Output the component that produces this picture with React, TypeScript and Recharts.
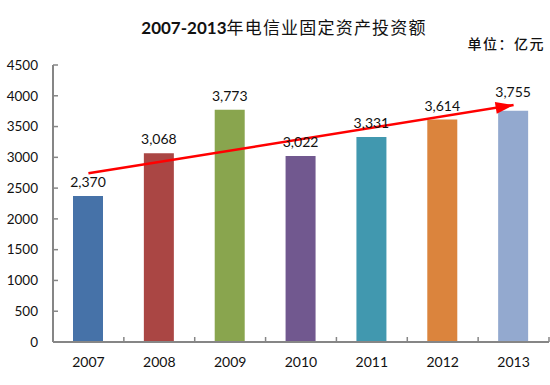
import React from "react";
import { Bar, Cell, ComposedChart, LabelList, Line, XAxis, YAxis } from "recharts";

// values
const years = ["2007", "2008", "2009", "2010", "2011", "2012", "2013"];
const investment = [2370, 3068, 3773, 3022, 3331, 3614, 3755];
const barColors = ["#4672A8", "#AA4644", "#89A54E", "#71588F", "#4198AF", "#DB843D", "#93A9CF"];
// red trend arrow: start value at 2007, tip value at 2013
const trendLine = [2740, null, null, null, null, null, 3850];
const yTicks = [0, 500, 1000, 1500, 2000, 2500, 3000, 3500, 4000, 4500];

const data = years.map((year, i) => ({
  year,
  value: investment[i],
  trend: trendLine[i],
}));

const FONT = "Lato, 'Noto Sans CJK SC', sans-serif";
const AXIS = "#868686";

function YearTick(props: any) {
  const { x, y, payload, width, visibleTicksCount } = props;
  const band = width && visibleTicksCount ? width / visibleTicksCount : 70.9;
  const axisY = y - 15;
  const bx = x + band / 2;
  return (
    <g>
      <line x1={bx} x2={bx} y1={axisY} y2={axisY - 5} stroke={AXIS} strokeWidth={1.5} />
      <text x={x} y={y + 10} textAnchor="middle" fontSize={14} fill="#111" fontFamily={FONT}>
        {payload.value}
      </text>
    </g>
  );
}

// value label above each bar; the last one sits a little higher to clear the arrow
function ValueLabel(props: any) {
  const { x, y, width, value, index } = props;
  const lift = index === years.length - 1 ? 14 : 9;
  return (
    <text
      x={x + width / 2}
      y={y - lift}
      textAnchor="middle"
      fontSize={14}
      fill="#111"
      fontFamily={FONT}
    >
      {Number(value).toLocaleString("en-US")}
    </text>
  );
}

function ArrowHead(props: any) {
  const { cx, cy, index, points } = props;
  if (index !== years.length - 1 || cx == null) return <g key={index} />;
  let angle = -0.16;
  if (points && points[0] && points[0].x != null) {
    angle = Math.atan2(cy - points[0].y, cx - points[0].x);
  }
  const len = 18;
  const half = 6;
  const bx = cx - len * Math.cos(angle);
  const by = cy - len * Math.sin(angle);
  const px = -Math.sin(angle) * half;
  const py = Math.cos(angle) * half;
  return (
    <polygon
      key={index}
      points={`${cx},${cy} ${bx + px},${by + py} ${bx - px},${by - py}`}
      fill="#FF0000"
    />
  );
}

export default function App() {
  return (
    <div style={{ position: "absolute", left: 0, top: 0, width: 550, height: 385, background: "#fff" }}>
      <svg width={550} height={60} style={{ position: "absolute", left: 0, top: 0 }}>
        <text x={284} y={34} textAnchor="middle" fill="#111">
          <tspan fontFamily={FONT} fontWeight="bold" fontSize={17}>2007-2013</tspan>
          <tspan fontFamily="'Noto Sans CJK SC', sans-serif" fontSize={17} letterSpacing={1.2}>年电信业固定资产投资额</tspan>
        </text>
        <text
          x={545}
          y={49}
          textAnchor="end"
          fontFamily="'Noto Sans CJK SC', sans-serif"
          fontSize={14}
          fontWeight={500}
          letterSpacing={1.5}
          fill="#111"
        >
          单位：亿元
        </text>
      </svg>
      <div style={{ position: "absolute", left: 0, top: 0 }}>
        <ComposedChart
          width={550}
          height={385}
          data={data}
          margin={{ top: 65, right: 1, left: 0, bottom: 0 }}
        >
          <XAxis
            dataKey="year"
            height={43}
            axisLine={{ stroke: AXIS, strokeWidth: 2 }}
            tickLine={false}
            tickSize={0}
            tickMargin={15}
            tick={<YearTick />}
            interval={0}
          />
          <YAxis
            width={53}
            domain={[0, 4500]}
            ticks={yTicks}
            interval={0}
            axisLine={{ stroke: AXIS, strokeWidth: 2 }}
            tickLine={{ stroke: AXIS, strokeWidth: 1.5 }}
            tickSize={-5}
            tickMargin={20}
            tick={{ fontSize: 13.5, fill: "#111", fontFamily: FONT }}
          />
          <Bar dataKey="value" barSize={30} isAnimationActive={false}>
            {data.map((d, i) => (
              <Cell key={d.year} fill={barColors[i]} />
            ))}
            <LabelList dataKey="value" content={<ValueLabel />} />
          </Bar>
          <Line
            dataKey="trend"
            stroke="#FF0000"
            strokeWidth={2.5}
            connectNulls
            dot={<ArrowHead />}
            activeDot={false}
            isAnimationActive={false}
          />
        </ComposedChart>
      </div>
    </div>
  );
}
